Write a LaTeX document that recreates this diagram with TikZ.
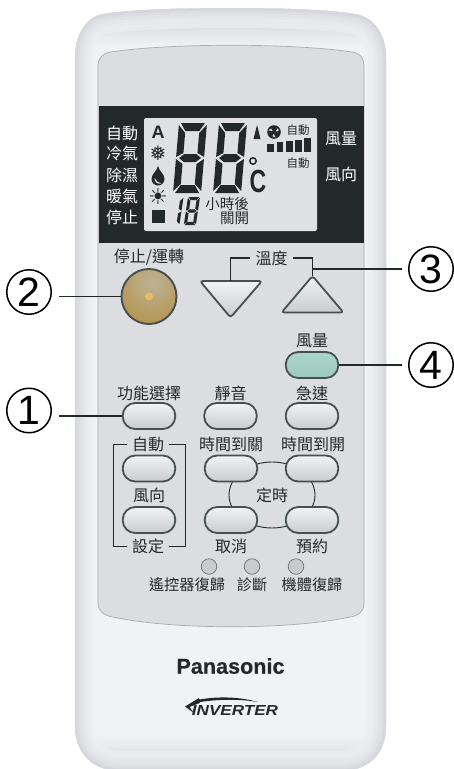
\documentclass[tikz,border=0pt]{standalone}
\usepackage{fontspec}
\setmainfont{Noto Sans CJK TC}
\newfontfamily\latinfont{Liberation Sans}
\newfontfamily\logofont{Liberation Sans Bold}[FakeBold=0.5]
\newfontfamily\symbolfont{DejaVu Sans}
\usetikzlibrary{calc}
\definecolor{bodywhite}{HTML}{F1F2F4}
\definecolor{bodyedge}{HTML}{C4C7CE}
\definecolor{panelgrey}{HTML}{DCDDE0}
\definecolor{paneledge}{HTML}{A9ABAF}
\definecolor{lcdink}{HTML}{23292B}
\definecolor{lcdback}{HTML}{DFE0E2}
\definecolor{btnedge}{HTML}{465050}
\definecolor{goldtop}{HTML}{BDB394}
\definecolor{goldedge}{HTML}{B4934F}
\definecolor{golddot}{HTML}{E8BA66}
\definecolor{windtop}{HTML}{AAD5C9}
\definecolor{windbottom}{HTML}{9ECABC}
\tikzset{
  lab/.style={inner sep=0pt, font=\fontsize{16}{16}\selectfont, text=lcdink},
  smalllab/.style={lab, font=\fontsize{15.2}{15.2}\selectfont},
  lcdlab/.style={lab, font=\fontsize{14.5}{14.5}\selectfont},
  tinylab/.style={lab, font=\fontsize{11.5}{11.5}\selectfont},
  darklab/.style={lab, text=white},
  pillbtn/.style={draw=btnedge, line width=1.8pt, rounded corners=12.5pt, minimum width=52.5pt, minimum height=26pt, inner sep=0pt, top color=bodywhite, bottom color=panelgrey!92!black},
  tribtn/.style={draw=btnedge, line width=1.8pt, rounded corners=3pt, top color=bodywhite, bottom color=panelgrey!92!black},
  led/.style={circle, draw=btnedge!80, line width=.7pt, fill=panelgrey!92!black, minimum size=15.5pt, inner sep=0pt},
  numcircle/.style={circle, draw=black, line width=1.5pt, minimum size=44.5pt, inner sep=0pt, font=\latinfont\fontsize{41}{41}\selectfont},
  leader/.style={line width=1.5pt, draw=lcdink},
  bracket/.style={line width=.9pt, draw=lcdink},
  lcdeight/.pic={
    \fill[lcdink] (2,0) -- (26,0) -- (21,8) -- (7,8) -- cycle
      (0,2) -- (7,10) -- (7,30) -- (0,34) -- cycle
      (28,2) -- (21,10) -- (21,30) -- (28,34) -- cycle
      (3,35) -- (8,31) -- (20,31) -- (25,35) -- (20,39) -- (8,39) -- cycle
      (0,36) -- (7,41) -- (7,61) -- (0,68) -- cycle
      (28,36) -- (21,41) -- (21,61) -- (28,68) -- cycle
      (2,70) -- (26,70) -- (21,62) -- (7,62) -- cycle;
  },
  lcdone/.pic={
    \fill[lcdink] (28,2) -- (21,10) -- (21,30) -- (28,34) -- cycle
      (28,36) -- (21,41) -- (21,61) -- (28,68) -- cycle;
  }
}
\newcommand{\bodyoutline}{(75,58) .. controls (75,32) and (88,16) .. (104,14) .. controls (150,6) and (310,6) .. (354,14) .. controls (372,16) and (386,32) .. (386,58) -- (386,725) .. controls (386,752) and (372,768) .. (345,771) -- (116,771) .. controls (90,768) and (75,752) .. (75,725) -- cycle}
\begin{document}
\begin{tikzpicture}[x=1pt,y=-1pt]
\useasboundingbox (0,0) rectangle (453,769);
\fill[bodywhite] \bodyoutline;
\begin{scope}
\clip \bodyoutline;
\shade[top color=bodyedge, bottom color=bodywhite] (70,0) rectangle (390,46);
\shade[top color=bodywhite, bottom color=bodyedge!70!bodywhite] (70,735) rectangle (390,772);
\foreach \w/\c in {40/6,34/12,28/20,22/30,16/42,10/56,5/72}
  \draw[line width=\w pt, bodyedge!\c!bodywhite, opacity=.6] \bodyoutline;
\end{scope}
\draw[fill=panelgrey, draw=paneledge, line width=.7pt] (98,66) .. controls (98,58) and (103,53) .. (111,52) .. controls (170,43) and (292,43) .. (352,52) .. controls (360,53) and (364,58) .. (364,66) -- (364,604) .. controls (364,611) and (358,616) .. (350,617) .. controls (290,630) and (172,630) .. (113,617) .. controls (105,616) and (98,611) .. (98,604) -- cycle;
\fill[lcdink] (99,106) rectangle (364,243);
\fill[lcdback, rounded corners=2pt] (144,118) rectangle (317,231);

\node (labauto) at (122,133) [darklab] {自動};
\node (labcool) at (122,153) [darklab] {冷氣};
\node (labdry) at (122,175) [darklab] {除濕};
\node (labheat) at (122,196) [darklab] {暖氣};
\node (labhalt) at (122,217) [darklab] {停止};
\node (labvol) at (341,139) [darklab] {風量};
\node (labdir) at (341,174) [darklab] {風向};

\node (lcdA) at (158,132) [inner sep=0pt, text=lcdink, font=\latinfont\bfseries\fontsize{18}{18}\selectfont] {A};
\node (lcdsnow) at (158,153) [inner sep=0pt, text=lcdink, font=\symbolfont\fontsize{20}{20}\selectfont] {❅};
\fill[lcdink] (158,166) .. controls (159,171) and (164.5,174) .. (164.5,179) .. controls (164.5,183) and (161,185.5) .. (158,185.5) .. controls (155,185.5) and (151.5,183) .. (151.5,179) .. controls (151.5,174) and (157,171) .. (158,166) -- cycle;
\fill[lcdback] (154.5,178) .. controls (154.5,183) and (158,184) .. (161,183.5) .. controls (158,182.5) and (156,181) .. (154.5,178) -- cycle;
\node (lcdsun) at (158,196) [inner sep=0pt, text=lcdink, font=\symbolfont\fontsize{22}{22}\selectfont] {☀};
\fill[lcdink] (151.5,209.5) rectangle (164.5,222.5);

\pic at (179,123) [xslant=.085] {lcdeight};
\pic at (219,123) [xslant=.085] {lcdeight};
\pic at (171.5,197) [xslant=.15,xscale=.43,yscale=.4] {lcdone};
\pic at (188,197) [xslant=.15,xscale=.43,yscale=.4] {lcdeight};
\draw[lcdink, line width=1.5pt] (253,161) circle (3.2pt);
\node (lcdC) at (258,181.5) [inner sep=0pt, text=lcdink, xscale=.72, font=\latinfont\bfseries\fontsize{32}{32}\selectfont] {C};

\fill[lcdink] (257,125) -- (260.5,139) -- (253.5,139) -- cycle;
\fill[lcdink] (274,132) circle (6.8pt);
\foreach \a in {20,140,260}
  \fill[lcdback] ($(274,132)+(\a:1.8pt)$) .. controls ($(274,132)+(\a-25:4pt)$) and ($(274,132)+(\a-10:5.5pt)$) .. ($(274,132)+(\a+25:5.5pt)$) -- cycle;
\node (lcdauto) at (298,130) [tinylab] {自動};
\node (lcdautob) at (298,163) [tinylab] {自動};
\fill[lcdink] (267.3,143.5) rectangle (273.8,152.3);
\fill[lcdink] (276.7,142) rectangle (283.2,152.3);
\fill[lcdink] (286,141) rectangle (292.5,152.3);
\fill[lcdink] (295,139.5) rectangle (301.5,152.3);
\fill[lcdink] (304,137.5) rectangle (310.5,152.3);
\node (lcdafter) at (227,204) [lcdlab] {小時後};
\node (lcdoff) at (234.5,218) [lcdlab] {關開};

\node (labstop) at (149,257) [lab] {停止/運轉};
\begin{scope}
\clip (149,296.5) circle (27.5pt);
\shade[inner color=goldtop, outer color=goldedge] (152,283) circle (42pt);
\end{scope}
\node (btnstop) at (149,296.5) [circle, draw=btnedge, line width=1.9pt, minimum size=55pt, inner sep=0pt] {};
\node (btnstopdot) at (149,296.5) [circle, fill=golddot, minimum size=8pt, inner sep=0pt] {};

\coordinate (tridown) at (230.5,281);
\coordinate (triup) at (312.5,276);
\coordinate (triline) at (312.5,269);
\draw[tribtn] (200,281) -- (262,281) -- (230.5,317.5) -- cycle;
\draw[tribtn] (281.5,312.5) -- (343.5,312.5) -- (312.5,276) -- cycle;
\node (labtemp) at (271.5,258) [lab] {溫度};

\node (labwind) at (312,341) [lab] {風量};
\node (btnwind) at (312,365) [pillbtn, top color=windtop, bottom color=windbottom] {};
\node (labfunc) at (149,393) [lab] {功能選擇};
\node (labquiet) at (230.5,393) [lab] {靜音};
\node (labfast) at (312,393) [lab] {急速};
\node (btnfunc) at (149,416) [pillbtn] {};
\node (btnquiet) at (230.5,416) [pillbtn] {};
\node (btnfast) at (312,416) [pillbtn] {};

\node (labswing) at (148,444) [lab] {自動};
\node (laboff) at (231,444) [lab] {時間到關};
\node (labon) at (313,444) [lab] {時間到開};
\node (labdirb) at (149,495) [lab] {風向};
\node (labset) at (148,546) [lab] {設定};
\node (labcancel) at (231,546) [lab] {取消};
\node (labbook) at (312,546) [lab] {預約};
\node (labtimer) at (272,495) [lab] {定時};
\coordinate (brleft) at (113,495);
\coordinate (brright) at (185,495);
\draw[bracket, shorten <=5pt, shorten >=5pt] (labswing.west) -- (labswing.west -| brleft) -- (labset.west -| brleft) -- (labset.west);
\draw[bracket, shorten <=5pt, shorten >=5pt] (labswing.east) -- (labswing.east -| brright) -- (labset.east -| brright) -- (labset.east);
\draw[bracket] (labtimer) ellipse (43pt and 33pt);

\node (btnswing) at (149,468.5) [pillbtn] {};
\node (btnset) at (149,520) [pillbtn] {};
\node (btnoff) at (231,468.5) [pillbtn] {};
\node (btnon) at (312,468.5) [pillbtn] {};
\node (btncancel) at (231,520) [pillbtn] {};
\node (btnbook) at (312,520) [pillbtn] {};

\node (ledremote) at (209,566.5) [led] {};
\node (ledcheck) at (252,566.5) [led] {};
\node (ledunit) at (296,566.5) [led] {};
\node (labremote) at (187,585) [smalllab] {遙控器復歸};
\node (labcheck) at (252,585) [smalllab] {診斷};
\node (labunit) at (312,585) [smalllab] {機體復歸};

\node (logoname) at (230.5,666) [inner sep=0pt, text=lcdink, font=\logofont\fontsize{21.6}{21.6}\selectfont] {Panasonic};
\node (logoinv) at (235,710.5) [inner sep=0pt, text=lcdink, xscale=1.18, font=\latinfont\bfseries\itshape\fontsize{14.5}{14.5}\selectfont] {INVERTER};
\fill[lcdink] (185,706.5) -- (199,698) -- (199.5,699.5) .. controls (220,696) and (240,697) .. (258,702) .. controls (240,699) and (220,699) .. (200,702) -- (199.5,703) -- (189.5,707) -- (194,713) -- cycle;

\node (numone) at (29,410.5) [numcircle] {1};
\node (numtwo) at (29,292) [numcircle] {2};
\node (numthree) at (431,269) [numcircle] {3};
\node (numfour) at (431,365) [numcircle] {4};
\draw[leader, shorten <=7pt] (numone.east |- btnfunc.west) -- (btnfunc.west);
\draw[leader, shorten <=7pt] (numtwo.east |- btnstop.west) -- (btnstop.west);
\draw[leader, shorten <=6pt] (numthree.west) -- (triline);
\draw[leader, shorten <=6pt] (numfour.west) -- (btnwind.east);
\draw[leader, shorten <=5pt] (labtemp.west) -| (tridown);
\draw[leader, shorten <=5pt] (labtemp.east) -| (triup);
\end{tikzpicture}
\end{document}
